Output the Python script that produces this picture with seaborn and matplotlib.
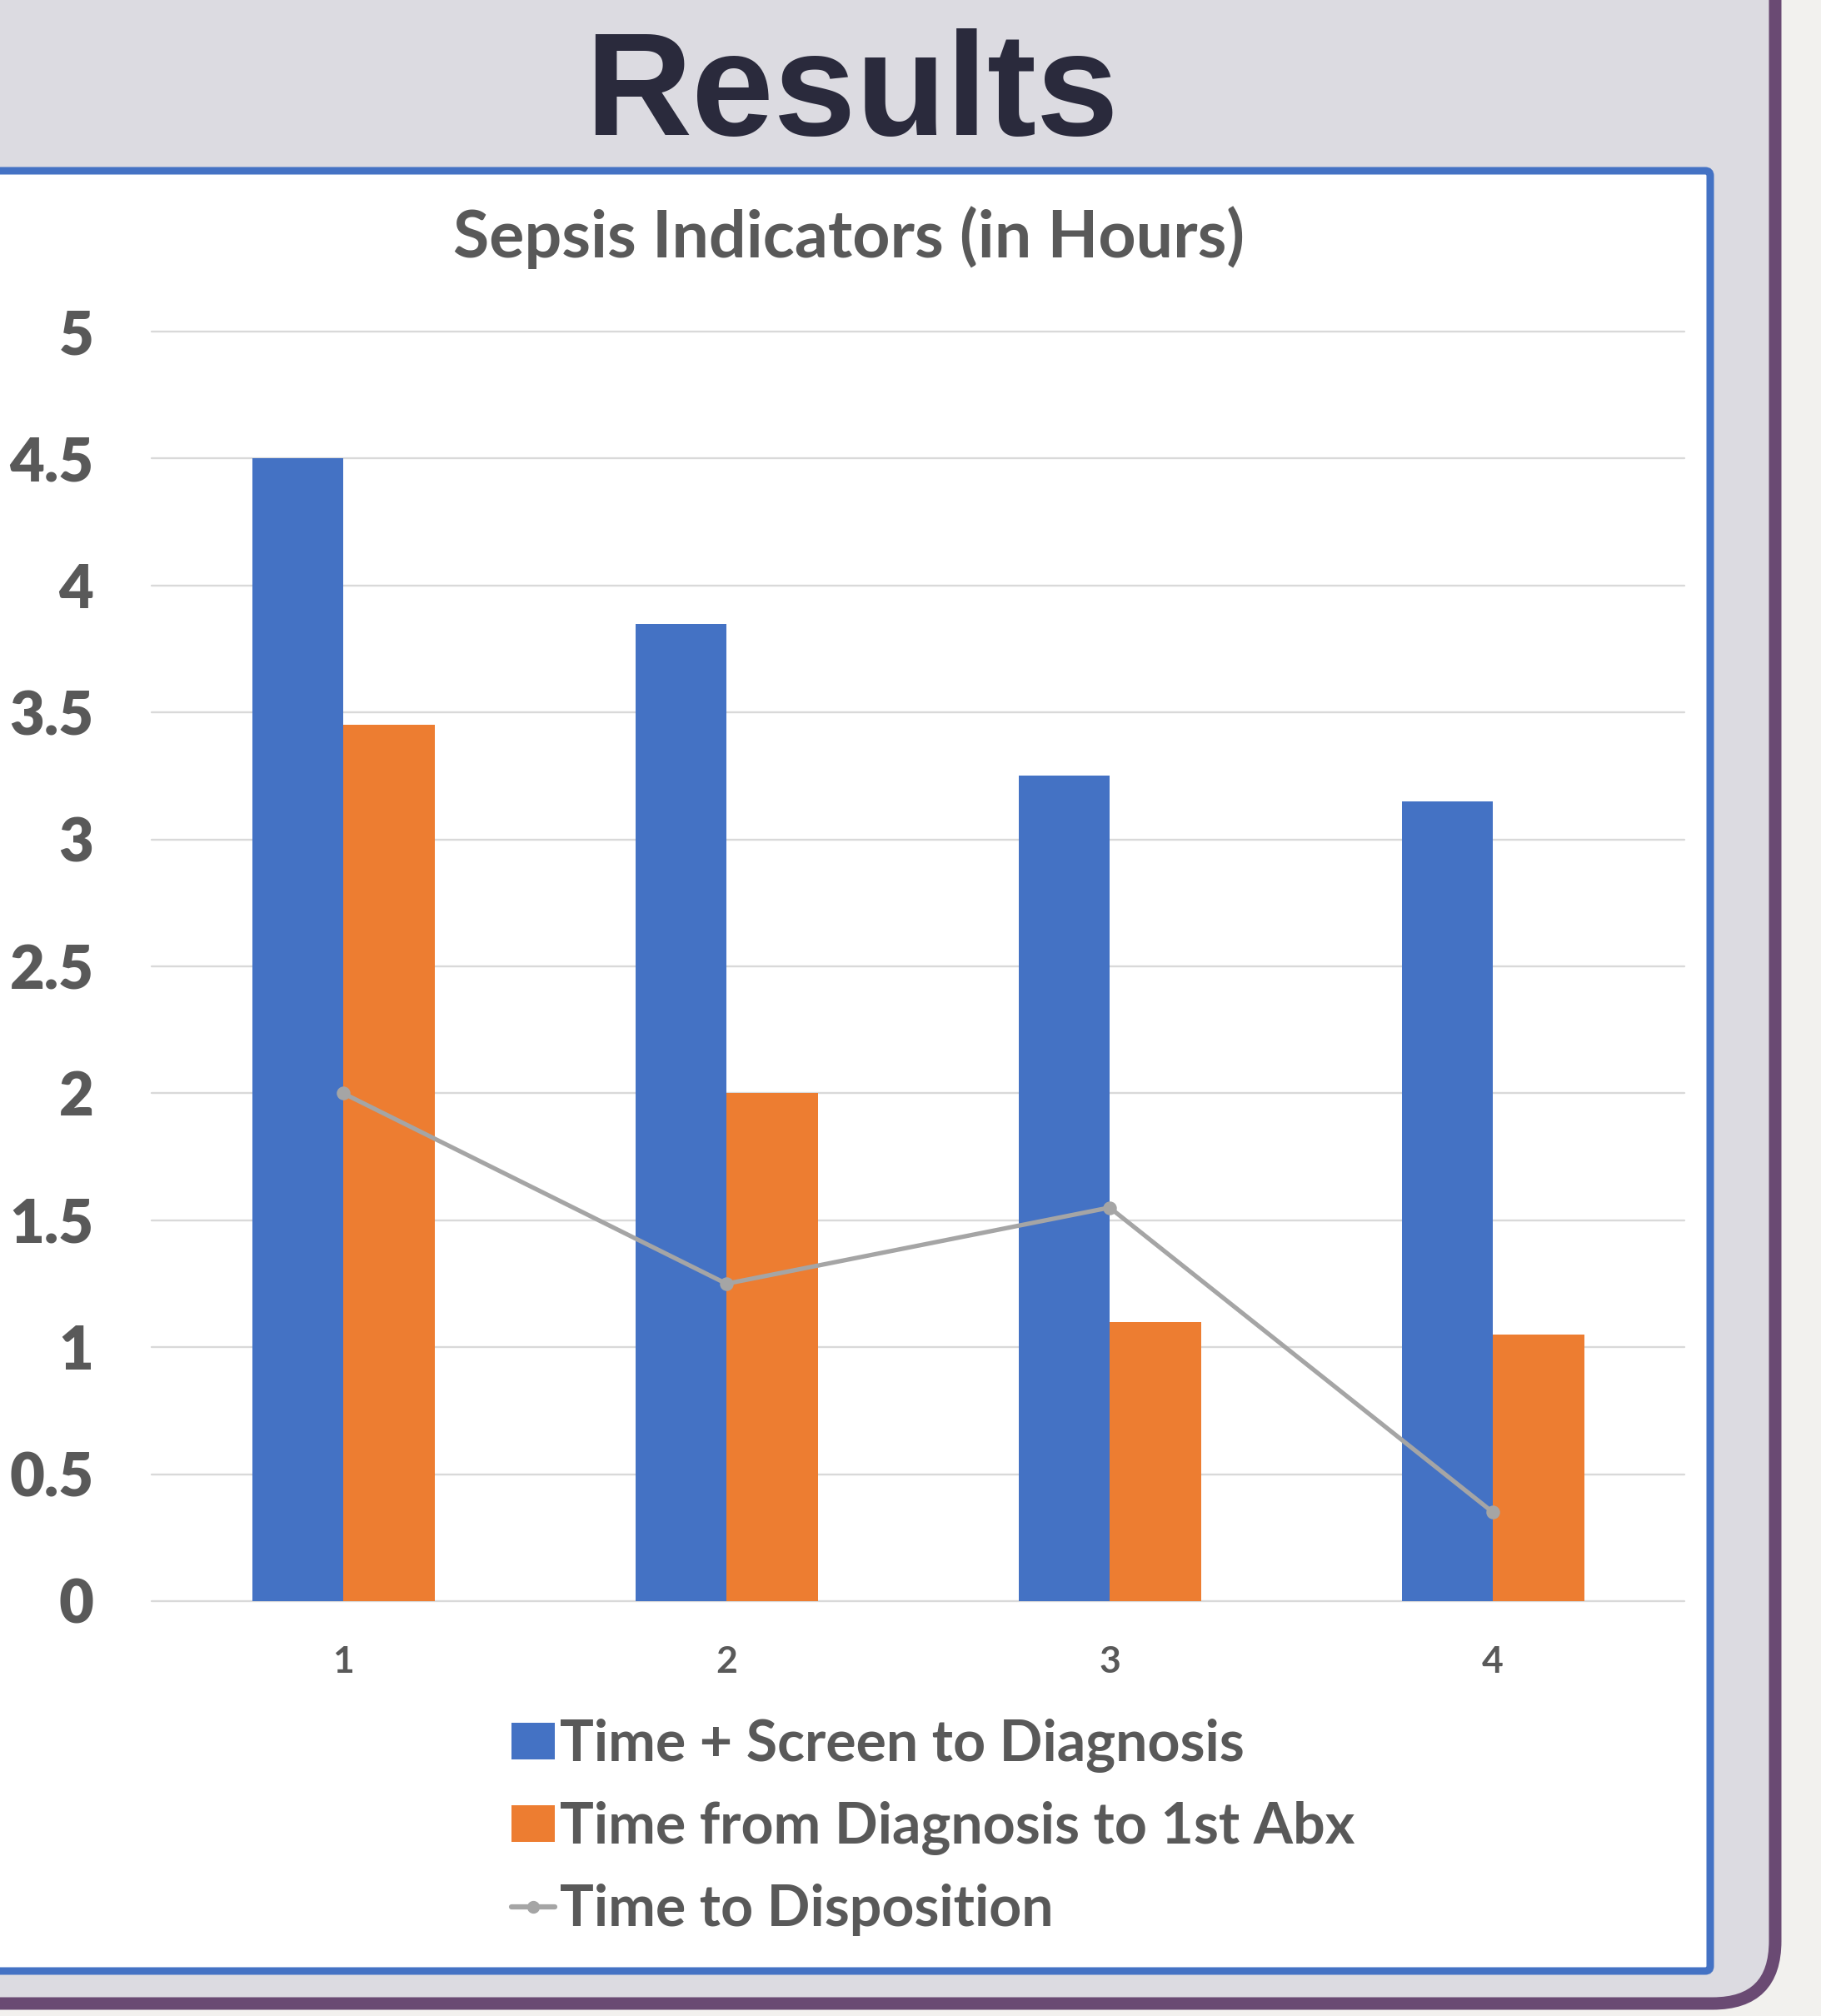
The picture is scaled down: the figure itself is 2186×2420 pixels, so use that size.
import numpy as np
import pandas as pd
import matplotlib
matplotlib.use("Agg")
import matplotlib.pyplot as plt
import seaborn as sns
from matplotlib.patches import FancyBboxPatch, Patch
from matplotlib.lines import Line2D
from matplotlib.transforms import IdentityTransform

# ---------------- data ----------------
groups = ["1", "2", "3", "4"]
screen_to_diag = [4.5, 3.85, 3.25, 3.15]
diag_to_abx = [3.45, 2.0, 1.1, 1.05]
time_to_dispo = [2.0, 1.25, 1.55, 0.35]
series_names = ["Time + Screen to Diagnosis", "Time from Diagnosis to 1st Abx", "Time to Disposition"]
yticks = [0, 0.5, 1, 1.5, 2, 2.5, 3, 3.5, 4, 4.5, 5]
ytick_labels = ["0", "0.5", "1", "1.5", "2", "2.5", "3", "3.5", "4", "4.5", "5"]
page_title = "Results"
chart_title = "Sepsis Indicators (in Hours)"

# ---------------- style ----------------
BLUE = "#4472c4"
ORANGE = "#ed7d31"
GRAY = "#a5a5a5"
TXT = "#595959"
PURPLE = "#6a4a73"
LAV = "#dcdbe1"
BG = "#f2f1ee"
DARK = "#2a2a3c"

sns.set_theme(style="white")
plt.rcParams["font.family"] = ["Lato", "DejaVu Sans"]

W, H = 2186, 2420
fig = plt.figure(figsize=(W / 100, H / 100), dpi=100, facecolor=BG)

# panel background (purple rounded frame) and white chart box
frame = FancyBboxPatch((-200, 15), 2131 + 200, 2500, boxstyle="round,pad=0,rounding_size=75",
                       transform=IdentityTransform(), facecolor=LAV, edgecolor=PURPLE,
                       linewidth=10.8, zorder=-10)
fig.patches.append(frame)
box = FancyBboxPatch((-60, 54), 2053 + 60, 2215 - 54, boxstyle="round,pad=0,rounding_size=6",
                     transform=IdentityTransform(), facecolor="white", edgecolor=BLUE,
                     linewidth=6.5, zorder=-9)
fig.patches.append(box)

renderer = fig.canvas.get_renderer()


def fit_size(text, target_px, **kw):
    t = fig.text(0, 0, text, fontsize=100, **kw)
    w = t.get_window_extent(renderer).width
    t.remove()
    return 100 * target_px / w


# titles
fs_res = fit_size(page_title, 641, family="Liberation Sans", weight="bold")
fig.text(0.4677, 0.933, page_title, ha="center", va="baseline", fontsize=fs_res,
         family="Liberation Sans", weight="bold", color=DARK)
fs_ct = fit_size(chart_title, 951, weight="bold")
fig.text(0.466, 0.8724, chart_title, ha="center", va="baseline", fontsize=fs_ct,
         weight="bold", color=TXT)

# ---------------- axes ----------------
ax = fig.add_axes([0.0833, 0.2058, 0.925 - 0.0833, 0.8355 - 0.2058])
ax.patch.set_alpha(0)

df = pd.DataFrame({
    "group": groups * 2,
    "value": screen_to_diag + diag_to_abx,
    "series": [series_names[0]] * 4 + [series_names[1]] * 4,
})
sns.barplot(data=df, x="group", y="value", hue="series", order=groups,
            hue_order=series_names[:2], palette=[BLUE, ORANGE], saturation=1,
            width=0.476, linewidth=0, legend=False, ax=ax, zorder=2)

dl = pd.DataFrame({"group": groups, "value": time_to_dispo})
sns.pointplot(data=dl, x="group", y="value", order=groups, color=GRAY,
              markers="o", markersize=9, linewidth=3.8, errorbar=None, ax=ax)
for ln in ax.lines:
    ln.set_zorder(4)

ax.set_xlim(-0.5, 3.5)
ax.set_ylim(0, 5)
ax.set_yticks(yticks)
ax.set_yticklabels(ytick_labels, weight="heavy", color=TXT, fontsize=52)
ax.set_xticks(range(len(groups)))
ax.set_xticklabels(groups, weight="bold", color=TXT, fontsize=32)
ax.tick_params(axis="y", length=0, pad=50)
ax.tick_params(axis="x", length=0, pad=38)
ax.set_xlabel("")
ax.set_ylabel("")
for s in ax.spines.values():
    s.set_visible(False)
ax.yaxis.grid(True, color="#d9d9d9", linewidth=1.7)
ax.xaxis.grid(False)
ax.set_axisbelow(True)
for gl in ax.get_ygridlines():
    gl.set_clip_on(False)

# ---------------- legend ----------------
fs_leg = fit_size(series_names[0], 823, weight="bold")
fs_px = fs_leg * 100 / 72
handles = [
    Patch(facecolor=BLUE, edgecolor="none"),
    Patch(facecolor=ORANGE, edgecolor="none"),
    Line2D([0], [0], color=GRAY, linewidth=4.5, marker="o", markersize=10),
]
leg = fig.legend(handles, series_names, loc="center left",
                 bbox_to_anchor=(0.281, 1 - 1421 * 1.5438 / H), bbox_transform=fig.transFigure,
                 frameon=False, prop={"family": ["Lato", "DejaVu Sans"], "weight": "bold", "size": fs_leg},
                 handlelength=52 / fs_px, handleheight=42 / fs_px, handletextpad=6 / fs_px,
                 labelspacing=0.5, borderpad=0, borderaxespad=0)
for t in leg.get_texts():
    t.set_color(TXT)

fig.savefig("out.png", dpi=100, facecolor=BG)
